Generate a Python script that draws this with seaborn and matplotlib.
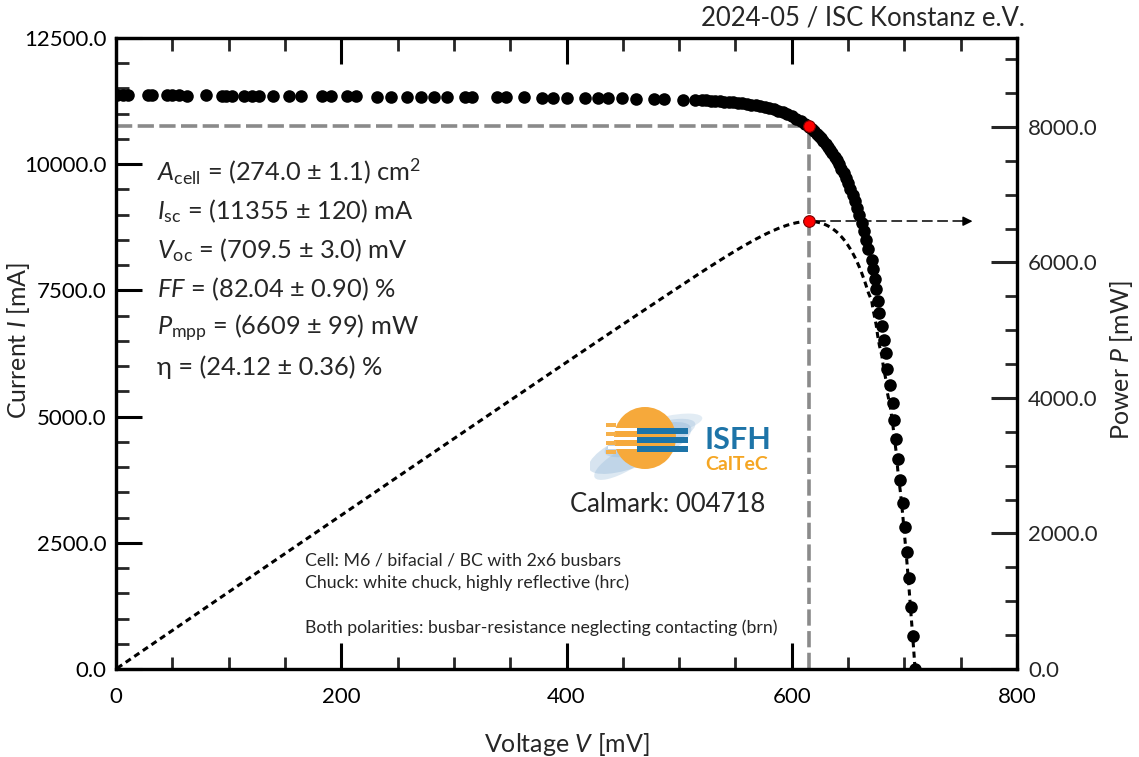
import matplotlib
matplotlib.use('Agg')
import matplotlib.pyplot as plt
import seaborn as sns
import pandas as pd
from matplotlib.ticker import MultipleLocator
from matplotlib.patches import Circle, Rectangle, Ellipse

# IV-Kennlinie, Werte
voltage_mv = [1, 6, 11, 28, 32, 45, 50, 56, 63, 80, 94, 98, 103, 114, 121, 127, 139, 154, 164,
              183, 191, 205, 213, 232, 244, 258, 271, 282, 294, 310, 316, 338, 346, 362, 378, 388,
              400, 416, 428, 437, 449, 462, 478, 487, 503, 514,
              520, 524, 528, 532, 536, 540, 544, 548, 552, 556, 560, 564, 568, 572, 576, 580,
              584, 588, 592, 596, 600, 604, 608, 612, 615, 618, 620, 622, 624, 626, 628, 630,
              632, 634, 636, 638, 640, 642, 644, 646, 648, 650, 652, 654, 656, 658, 660, 662,
              664, 666, 668, 671.0, 672.0, 673.5, 675.0, 676.2, 677.8, 680.0, 681.5, 683.5,
              685.0, 687.5, 689.5, 691.2, 693.0, 694.4, 696.5, 698.4, 700.2, 702.0, 703.8,
              705.6, 707.5, 709.5]
current_ma = [11372, 11368, 11366, 11369, 11365, 11366, 11362, 11364, 11360, 11361, 11357, 11355,
              11357, 11353, 11355, 11351, 11352, 11348, 11350, 11345, 11347, 11343, 11344, 11340,
              11341, 11337, 11338, 11334, 11333, 11330, 11330, 11326, 11327, 11323, 11321, 11319,
              11316, 11312, 11309, 11306, 11302, 11297, 11290, 11286, 11277, 11271,
              11267, 11263, 11259, 11253, 11248, 11241, 11234, 11226, 11217, 11207, 11195, 11182,
              11168, 11150, 11132, 11110, 11085, 11058, 11026, 10991, 10950, 10904, 10852, 10792,
              10743, 10688, 10649, 10607, 10561, 10514, 10462, 10408, 10350, 10288, 10222, 10151,
              10077, 9996, 9910, 9819, 9723, 9618, 9508, 9391, 9266, 9131, 8989, 8836, 8673,
              8500, 8316, 8100, 7920, 7720, 7520, 7290, 7050, 6800, 6520, 6260, 5940, 5630,
              5270, 4930, 4560, 4160, 3745, 3290, 2810, 2320, 1800, 1230, 650, 0]

v_mpp = 615.0
i_mpp = 10747.0
p_mpp = 6609.0
v_arrow_end = 763

x_ticks = [0, 200, 400, 600, 800]
y_ticks = [0, 2500, 5000, 7500, 10000, 12500]
p_ticks = [0, 2000, 4000, 6000, 8000]

result_lines = [r'$A_{\mathrm{cell}}$ = (274.0 ± 1.1) cm$^{\mathrm{2}}$',
                r'$I_{\mathrm{sc}}$ = (11355 ± 120) mA',
                r'$V_{\mathrm{oc}}$ = (709.5 ± 3.0) mV',
                r'$FF$ = (82.04 ± 0.90) %',
                r'$P_{\mathrm{mpp}}$ = (6609 ± 99) mW',
                'η = (24.12 ± 0.36) %']
note_lines = ['Cell: M6 / bifacial / BC with 2x6 busbars',
              'Chuck: white chuck, highly reflective (hrc)',
              '',
              'Both polarities: busbar-resistance neglecting contacting (brn)']

df = pd.DataFrame({'V': voltage_mv, 'I': current_ma})
df['P'] = df['V'] * df['I'] / 1000.0

sns.set_theme(style='ticks')
plt.rcParams['font.family'] = ['Lato', 'DejaVu Sans']
plt.rcParams['mathtext.fontset'] = 'custom'
plt.rcParams['mathtext.rm'] = 'Lato'
plt.rcParams['mathtext.it'] = 'Lato:italic'
plt.rcParams['mathtext.bf'] = 'Lato:bold'

W, H = 1139, 757
fig = plt.figure(figsize=(W / 100, H / 100), dpi=100)
ax = fig.add_axes([116 / W, 1 - 669 / H, 901 / W, 631 / H])
ax2 = ax.twinx()

# Hilfslinien zum MPP
gray = '#8a8a8a'
ax.plot([0, v_mpp], [i_mpp, i_mpp], color=gray, lw=2.6, ls=(0, (4.5, 1.5)), zorder=1)
ax.plot([v_mpp, v_mpp], [0, i_mpp], color=gray, lw=2.6, ls=(0, (4.5, 1.5)), zorder=1)

sns.scatterplot(data=df, x='V', y='I', ax=ax, color='black', s=82, linewidth=0, zorder=3)
ax.scatter([v_mpp], [i_mpp], s=70, color='#ff0000', edgecolor='#7a0000', linewidth=0.8, zorder=5)

sns.lineplot(data=df, x='V', y='P', ax=ax2, color='black', lw=2.2, ls=(0, (2, 1.4)),
             estimator=None, zorder=3)
ax2.plot([v_mpp + 6, v_arrow_end - 8], [p_mpp, p_mpp], color='black', lw=1.1, ls=(0, (7, 3)))
ax2.annotate('', xy=(v_arrow_end, p_mpp), xytext=(v_arrow_end - 9, p_mpp),
             arrowprops=dict(arrowstyle='-|>', color='black', lw=1.1, mutation_scale=14))
ax2.scatter([v_mpp], [p_mpp], s=70, color='#ff0000', edgecolor='#7a0000', linewidth=0.8, zorder=5)

ax.set_xlim(0, 800)
ax.set_ylim(0, 12500)
ax2.set_ylim(0, 9313)

ax.set_xticks(x_ticks)
ax.set_xticklabels([str(t) for t in x_ticks])
ax.set_yticks(y_ticks)
ax.set_yticklabels([f'{t:.1f}' for t in y_ticks])
ax2.set_yticks(p_ticks)
ax2.set_yticklabels([f'{t:.1f}' for t in p_ticks])
ax.xaxis.set_minor_locator(MultipleLocator(50))
ax.yaxis.set_minor_locator(MultipleLocator(500))
ax2.yaxis.set_minor_locator(MultipleLocator(500))

for a in (ax, ax2):
    for sp in a.spines.values():
        sp.set_linewidth(2.3)
        sp.set_color('black')
ax.tick_params(which='major', direction='in', length=19, width=2.2, top=True, right=False,
               labelsize=16, pad=7, colors='black')
ax.tick_params(which='minor', direction='in', length=9, width=2.0, top=True, right=False)
ax.tick_params(axis='x', which='major', pad=13)
ax2.tick_params(which='major', direction='in', length=19, width=2.2, labelsize=16, pad=8)
ax2.tick_params(which='minor', direction='in', length=9, width=2.0)

ax.set_xlabel('Voltage $V$ [mV]', fontsize=18)
ax.set_ylabel('Current $I$ [mA]', fontsize=18)
ax2.set_ylabel('Power $P$ [mW]', fontsize=18)
ax.xaxis.set_label_coords(0.5, -(731 - 669) / 631)
ax.yaxis.set_label_coords((32 - 116) / 901, 0.52)
ax2.yaxis.set_label_coords((1108 - 116) / 901, 0.49)


def fig_text(x, y, s, **kw):
    fig.text(x / W, 1 - y / H, s, **kw)


fig_text(1025, 18, '2024-05 / ISC Konstanz e.V.', fontsize=18.5, ha='right', va='center')

for k, line in enumerate(result_lines):
    fig_text(157, 172 + 39 * k, line, fontsize=18.3, ha='left', va='center')

for k, line in enumerate(note_lines):
    fig_text(305, 560 + 22.5 * k, line, fontsize=12.8, ha='left', va='center')

fig_text(668, 505, 'Calmark: 004718', fontsize=18.5, ha='center', va='center')

# Logo ISFH CalTeC
lax = fig.add_axes([590 / W, 1 - 485 / H, 190 / W, 90 / H])
lax.set_xlim(590, 780)
lax.set_ylim(485, 395)
lax.axis('off')
for cx, cy, w, h, ang, al in [(640, 448, 110, 34, -22, 0.35), (650, 438, 95, 26, -18, 0.3),
                              (625, 460, 70, 22, -30, 0.3), (668, 425, 70, 18, -12, 0.25)]:
    lax.add_patch(Ellipse((cx, cy), w, h, angle=ang, color='#8db4d6', alpha=al, lw=0))
lax.add_patch(Circle((645, 438), 31, color='#f6a93b', lw=0))
for yy in (429.5, 438.5, 447.5):
    lax.add_patch(Rectangle((608, yy - 1.3), 30, 2.6, color='white', lw=0))
for yy in (425, 434, 443, 452):
    lax.add_patch(Rectangle((606, yy - 2.4), 10, 4.8, color='#f6b04a', lw=0))
for yy in (431, 440, 449):
    lax.add_patch(Rectangle((637, yy - 2.6), 51, 5.2, color='#1d74a8', lw=0))
lax.text(738, 440, 'ISFH', fontsize=22, fontweight='bold', color='#1d74a8', ha='center', va='center')
lax.text(737, 465, 'CalTeC', fontsize=14, fontweight='bold', color='#f5a623', ha='center', va='center')

fig.savefig('out.png', dpi=100)
